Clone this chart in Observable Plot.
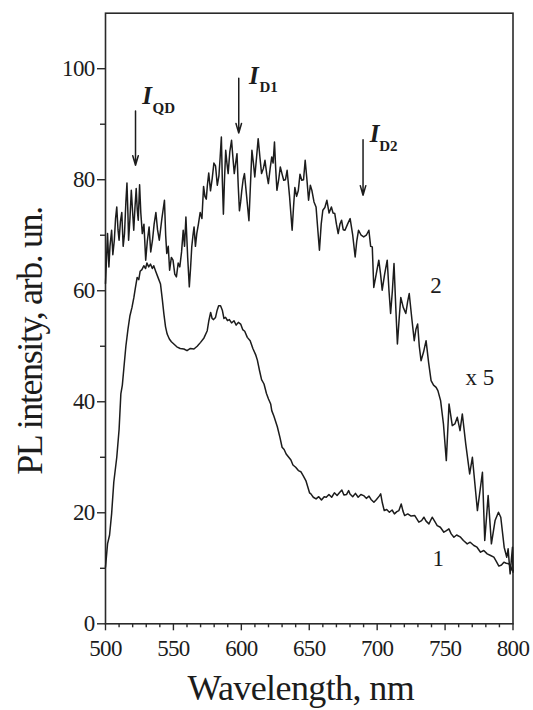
<!DOCTYPE html>
<html><head><meta charset="utf-8">
<script src="https://cdn.jsdelivr.net/npm/d3@7"></script>
<script src="https://cdn.jsdelivr.net/npm/@observablehq/plot@0.6"></script>
<style>
body{margin:0;background:#fff}
svg{display:block}
.ticklbl text{letter-spacing:-0.7px}
</style>
</head><body><div id="chart"></div>
<script>
// Curve 1: PL spectrum (smooth)
const wavelength1 = [500,501.5,503,504.5,506.1,508.3,510,511.3,512.4,513.5,515,516.5,518,519.5,520.9,522,523.3,524.5,525.5,526.8,528.2,529.5,530.5,531.8,533.1,534.5,535.5,536.8,538.5,540.5,541.8,543,544.2,545.4,547,548.5,550.3,552.5,555,557.7,560,562.5,565.1,567.5,570,572.5,574.9,576,577.4,578.5,579.5,581,582.2,583.3,584.7,586,587.2,588.4,589.8,591.2,592.8,594.6,596.2,597.8,599.5,601,602.5,604.4,606.5,608.5,610.5,611.8,613.5,614.9,616.7,618.5,620,621.6,622.4,624,626.5,628.5,630,631.5,633,634.9,636.5,638,640,642,643.8,645.5,647.5,649,650.2,651.2,653,655,657,659,661,662.5,664.5,666.5,668.5,670.5,672.5,674,675.5,677.5,679,680,682,684,686,688,690,692,694,695.5,697.6,699.5,701.5,702.6,703.8,705.2,707,709,711,712.7,714.5,716,717.7,719,720.2,722.5,725,727.7,730.7,732.7,734.4,736,738.1,740.5,742.5,744.2,746.5,749.1,751,752.8,754.5,756.5,758.5,761.4,763.5,766.3,768.5,771.2,773.5,776.1,778.5,781,783.5,785.9,787.8,789.6,791.5,793.3,795,797,798.5,799.4,800];
const intensity1 = [10.2,14.4,16,19.8,25.5,30,35,41.4,43,46,50,53,55.5,57,58.8,60.5,62.4,62,63.5,63.8,64.5,64,65,64.3,64.8,64,64.5,63.6,62.5,61.2,58.5,55.8,53.5,52.2,51.3,50.8,50.4,49.9,49.6,49.5,49.2,49.6,49.5,50,50.7,51.5,52.8,54.5,56.1,55,54.8,55.2,56.5,57.3,57.3,56.5,55,55.2,54.6,54.8,54.2,54.6,53.8,54.3,54,53,52.7,51.6,51,49.6,48.5,47.5,45.5,44,43.2,41.5,40.5,39.6,38.4,37.4,35.5,33.5,31.8,31.4,30.6,30,29.5,28.6,28.2,27.6,27.4,26.7,25.8,24.6,23.6,23.4,22.8,22.5,22.9,22.3,22.9,22.8,23.3,22.8,23.6,23.1,23.7,24.1,23.2,23.3,24,23.4,22.9,23.5,22.8,23.3,23.1,22.6,23,22.4,21.9,22.4,23,23.4,21.8,20.4,20.6,20.1,20.5,19.8,20.2,20.4,21.6,20.3,19.5,19.8,19.4,19.5,18.3,18.6,19.2,18.5,18,19.2,18.4,17.7,17.4,16.5,16.8,17.1,16.2,15.6,16,15.6,15,14.4,14.7,14.1,13.8,12.9,13.2,12.6,12.3,12,11.2,10.4,10.6,11.1,10.9,10.8,10.2,9.6,9.6];

// Curve 2: PL spectrum x5 (noisy)
const wavelength2 = [500,500.8,501.5,502.5,503.3,504.5,505.4,506.5,507.4,508.3,509.2,510,511,512,513,514,515,515.8,516.5,517,518,519,520,520.8,521.7,522.6,523.4,524.1,525.1,526,527.1,528.3,529.6,530.8,532.1,533.3,534.6,535.8,537.1,538.3,539.6,541.5,543.4,544.3,545.1,546.2,547.2,548.5,549.7,551,552.2,553.5,554.7,556,557.2,558.2,559.2,560.5,561.7,562.6,563.5,564.4,565.2,566.2,567.2,568.4,569.7,571,572.2,573.2,574.2,575,576,577.3,578.5,579.8,581,582.3,583.5,584.4,585.3,586,586.8,587.6,588.5,589.4,590.3,591.5,592.8,593.8,594.8,595.8,596.8,597.7,598.6,599.5,600.3,601.3,602.3,603.9,605.6,606.7,607.8,608.9,609.9,611.2,612.4,613.7,614.9,616.2,617.4,618.7,619.9,621.2,622.4,623.4,624.4,625.3,626.2,627.5,628.7,630,631.2,632.5,633.7,635.5,637.4,638.4,639.4,640.7,641.9,643.2,644.5,645.8,647,648.3,649.5,650.8,652,653.5,655,656.3,657.5,658.8,660,661.5,663,664.6,666.3,667.5,668.8,670,671.3,672.6,673.8,675,676.3,678.2,680.1,682,683.8,685,686.3,688.2,690.1,692,693.9,695.2,696.4,697.5,699.3,701.2,702.5,703.7,705.5,707.4,708.7,709.9,711.2,712.4,713.7,714.9,716.2,717.4,719.2,721.1,722.4,723.6,725.5,727.3,728.5,729.8,731,732.3,734.2,736,737.9,739.7,741.5,743.4,744.7,746.7,748.8,750.9,752.9,755.3,757.2,759,761,762.7,765.2,768.1,770.1,773.8,777.5,779.2,781.7,784.1,786.8,789.3,791,793.5,795.4,796.4,797.9,799.6,800];
const intensity2 = [61.3,66,70.3,64.3,68,70.9,66.5,69.1,73,75.1,71,69.1,72.5,74.1,68,70.3,76,79.4,74,69.1,73,78.1,74,70.9,75,78.4,74.5,72.7,79.1,74,70.3,72,65.5,69,71.5,67,69.1,72,74.1,71,69.1,73,76.3,70,66.7,68,63.7,66,65.5,63,62.5,65,64.3,67,70.9,68,73.3,66,60.7,64,67.9,70,71.5,68,70.3,72,74.1,73,78.8,77,76.5,79,81.2,78,80.1,83,82.5,79,80.7,84,87.7,80,73.8,80,85.3,83,81.1,85,87.1,84,81.1,83,84.7,79,74.4,76,78,80,81.1,77,72.6,79,85.3,83,80.5,84,87.4,84,81.1,82,83.5,81,79.3,82,84.1,83,86.8,82,78.1,80,82.3,81,79.9,80,81.7,77,70.9,75,78.6,77,78,81,79.9,80,83.5,80,76.3,79,78,76,75.1,71,67.3,72,74.5,75,76.3,74,75.1,74,73.9,72,70.3,72,72.7,71,70.9,72,73,70,66.1,69,70.9,70,69.7,70,70.9,68,67.9,60.6,63,65.5,63,60.1,63,65.5,60,55.9,60,64.9,57,50.4,55,58.8,57,55.9,58,59.5,55,51,53,54,50,47.4,49,51,47,43.8,43,42.6,42,40.2,36,29.4,39.6,35.7,36,37.2,34.8,37.8,32.4,27,30,20.4,27.3,15,23.1,14.4,18.6,20.1,19.2,13.8,12,13.5,9,13.8,9.3];

// Axis ticks
const xMajorTicks = [500,550,600,650,700,750,800];
const xMinorTicks = [510,520,530,540,560,570,580,590,610,620,630,640,660,670,680,690,710,720,730,740,760,770,780,790];
const yMajorTicks = [0,20,40,60,80,100];
const yMinorTicks = [10,30,50,70,90];

// Arrow annotations (data coordinates)
const arrowNames = ["QD","D1","D2"];
const arrowWavelength = [522.1,598.1,689.6];
const arrowTop = [92.4,98.3,87.2];
const arrowTip = [82.6,88.4,77.2];
const labelIWavelength = [527.1,605.7,694.6];
const labelIY = [95.1,98.6,88.2];
const labelSubWavelength = [534.6,613.3,701.5];
const labelSubY = [92.8,96.6,86.0];

// Curve labels
const curveLabels = ["2","x 5","1"];
const curveLabelX = [743.4,775.6,744.9];
const curveLabelY = [61.0,44.3,11.8];

const curve1 = wavelength1.map((w,i)=>({w, v: intensity1[i]}));
const curve2 = wavelength2.map((w,i)=>({w, v: intensity2[i]}));
const arrows = arrowNames.map((n,i)=>({n, x: arrowWavelength[i], y1: arrowTop[i], y2: arrowTip[i],
  ix: labelIWavelength[i], iy: labelIY[i], sx: labelSubWavelength[i], sy: labelSubY[i]}));
const cLabels = curveLabels.map((t,i)=>({t, x: curveLabelX[i], y: curveLabelY[i]}));

const ink = "#1c1c1c";
const axisInk = "#2a2a2a";
const font = "'Liberation Serif', 'Times New Roman', serif";

const plot = Plot.plot({
  width: 533, height: 710,
  marginLeft: 105, marginRight: 20.5, marginTop: 12.7, marginBottom: 86.7,
  style: {fontFamily: font, color: ink, background: "#fff"},
  x: {domain: [500, 800]},
  y: {domain: [0, 110]},
  marks: [
    Plot.axisX({ticks: xMinorTicks, tickSize: 4, tickFormat: () => "", label: null, stroke: axisInk, strokeWidth: 1.4}),
    Plot.axisX({ticks: xMajorTicks, tickSize: 7, tickPadding: 9, fontSize: 23, label: null, stroke: axisInk, strokeWidth: 1.4, fill: ink, tickFormat: d => String(d), className: "ticklbl"}),
    Plot.axisY({ticks: yMinorTicks, tickSize: 5, tickFormat: () => "", label: null, stroke: axisInk, strokeWidth: 1.4}),
    Plot.axisY({ticks: yMajorTicks, tickSize: 8, tickPadding: 3, fontSize: 23, label: null, stroke: axisInk, strokeWidth: 1.4, fill: ink, tickFormat: d => String(d), className: "ticklbl"}),
    Plot.frame({stroke: axisInk, strokeWidth: 1.6}),
    Plot.line(curve1, {x: "w", y: "v", stroke: ink, strokeWidth: 1.5}),
    Plot.line(curve2, {x: "w", y: "v", stroke: ink, strokeWidth: 1.5}),
    Plot.arrow(arrows, {x1: "x", y1: "y1", x2: "x", y2: "y2", stroke: ink, strokeWidth: 1.5, headLength: 10, headAngle: 32}),
    Plot.text(arrows, {x: "ix", y: "iy", text: () => "I", textAnchor: "start", fontSize: 25, fontStyle: "italic", fontWeight: "bold", fill: ink}),
    Plot.text(arrows, {x: "sx", y: "sy", text: "n", textAnchor: "start", fontSize: 15, fontWeight: "bold", fill: ink}),
    Plot.text(cLabels, {x: "x", y: "y", text: "t", fontSize: 23, fill: ink})
  ]
});

const svg = d3.select(plot);
svg.append("text")
  .attr("x", 300.8).attr("y", 700)
  .attr("text-anchor", "middle")
  .attr("font-size", 36).attr("letter-spacing", "-0.6px")
  .attr("fill", ink).attr("font-family", font)
  .text("Wavelength, nm");
svg.append("text")
  .attr("transform", "translate(42,341) rotate(-90)")
  .attr("text-anchor", "middle")
  .attr("font-size", 36).attr("letter-spacing", "-1.4px")
  .attr("fill", ink).attr("font-family", font)
  .text("PL intensity, arb. un.");

document.getElementById("chart").appendChild(plot);
</script>
</body></html>
